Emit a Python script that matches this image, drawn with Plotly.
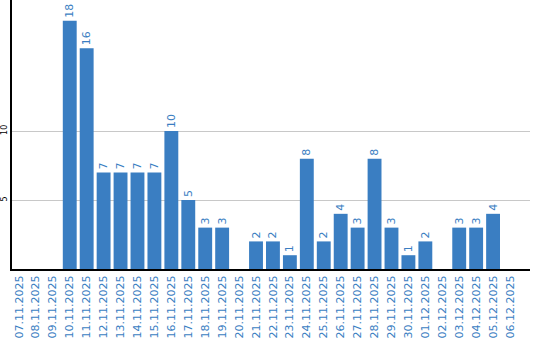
import plotly.graph_objects as go

dates = ["07.11.2025", "08.11.2025", "09.11.2025", "10.11.2025", "11.11.2025", "12.11.2025",
         "13.11.2025", "14.11.2025", "15.11.2025", "16.11.2025", "17.11.2025", "18.11.2025",
         "19.11.2025", "20.11.2025", "21.11.2025", "22.11.2025", "23.11.2025", "24.11.2025",
         "25.11.2025", "26.11.2025", "27.11.2025", "28.11.2025", "29.11.2025", "30.11.2025",
         "01.12.2025", "02.12.2025", "03.12.2025", "04.12.2025", "05.12.2025", "06.12.2025"]
counts = [0, 0, 0, 18, 16, 7, 7, 7, 7, 10, 5, 3, 3, 0, 2, 2, 1, 8, 2, 4, 3, 8, 3, 1, 2, 0, 3, 3, 4, 0]
ytick_vals = [5, 10]

blue = "#3a7ec2"
labels = [str(v) if v else "" for v in counts]

fig = go.Figure(go.Bar(
    x=dates, y=counts, text=labels, textposition="outside", textangle=-90,
    textfont=dict(color=blue, size=11, family="DejaVu Sans"),
    marker=dict(color=blue, line=dict(width=0)), cliponaxis=False,
))
fig.update_layout(
    width=540, height=340, margin=dict(l=10, r=10, t=0, b=71),
    paper_bgcolor="white", plot_bgcolor="white", bargap=0.18, showlegend=False,
    font=dict(family="DejaVu Sans"),
)
fig.update_xaxes(type="category", range=[-0.41, 30.18], showline=True, linecolor="black",
                 linewidth=2, tickangle=-90, ticks="", showgrid=False,
                 tickfont=dict(color=blue, size=11, family="DejaVu Sans"))
fig.update_yaxes(range=[0, 19.5], tickvals=ytick_vals, showline=True, linecolor="black",
                 linewidth=2, showgrid=True, gridcolor="#c8c8c8", gridwidth=1, zeroline=False,
                 tickangle=-90, ticks="", ticklabelstandoff=0,
                 tickfont=dict(color="black", size=8, family="DejaVu Sans"))
fig.write_html("out.html")
